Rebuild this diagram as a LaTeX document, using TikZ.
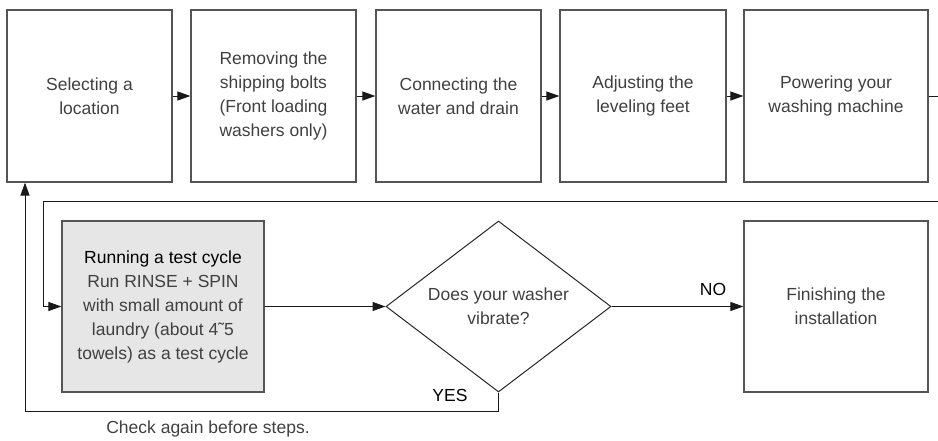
\documentclass[tikz,border=0pt]{standalone}
\usepackage{fontspec}
\setmainfont{Liberation Sans}
\usetikzlibrary{arrows.meta,shapes.geometric}
\definecolor{txt}{HTML}{404040}
\definecolor{edge}{HTML}{555555}
\definecolor{grayfill}{HTML}{E6E6E6}
\tikzset{
  stepbox/.style={draw=edge, line width=1.2pt, minimum height=172pt, align=center, text=txt, inner sep=0pt,
    font=\fontsize{17.5}{24}\selectfont},
  conn/.style={draw=black!90, line width=1pt},
  arr/.style={conn, -{Triangle[length=13pt,width=9pt]}},
  lbl/.style={font=\fontsize{17.5}{24}\selectfont, text=black, inner sep=0pt},
}
\begin{document}
\begin{tikzpicture}[x=1pt,y=-1pt]
\useasboundingbox (0,0) rectangle (938,440);
\node[stepbox, minimum width=165pt] (b1) at (89.5,96) {Selecting a\\location};
\node[stepbox, minimum width=165pt] (b2) at (273.5,96) {Removing the\\shipping bolts\\(Front loading\\washers only)};
\node[stepbox, minimum width=165pt] (b3) at (458.5,96) {Connecting the\\water and drain};
\node[stepbox, minimum width=166pt] (b4) at (643,96) {Adjusting the\\leveling feet};
\node[stepbox, minimum width=184pt] (b5) at (836,96) {Powering your\\washing machine};
\coordinate (rend) at (938,96);
\coordinate (rtop) at (938,201);
\coordinate (lk) at (43,201);
\coordinate (lb) at (25,411);

\node[stepbox, fill=grayfill, minimum width=202pt, minimum height=171pt] (test) at (163,306.5)
  {{\color{black}Running a test cycle}\\Run RINSE + SPIN\\with small amount of\\laundry (about 4˜5\\towels) as a test cycle};
\node[diamond, draw=black!85, line width=1pt, minimum width=225pt, minimum height=171pt, inner sep=0pt] (dia) at (498.5,306.5) {};
\node[align=center, text=txt, font=\fontsize{17.5}{24}\selectfont, inner sep=0pt] (diat) at (dia.center) {Does your washer\\vibrate?};
\node[stepbox, minimum width=184pt, minimum height=171pt] (fin) at (836,306.5) {Finishing the\\installation};

\draw[arr] (b1.east) -- (b2.west);
\draw[arr] (b2.east) -- (b3.west);
\draw[arr] (b3.east) -- (b4.west);
\draw[arr] (b4.east) -- (b5.west);
\draw[conn] (b5.east) -- (rend);
\draw[arr] (rtop) -- (lk) |- (test.west);
\draw[arr] (test.east) -- (dia.west);
\draw[arr] (dia.east) -- (fin.west);
\node[lbl] (no) at (713,289) {NO};
\draw[arr] (dia.south) |- (lb) -- (b1.south -| lb);
\node[lbl] (yes) at (450,395) {YES};
\node[text=txt, font=\fontsize{17.5}{24}\selectfont, inner sep=0pt] (chk) at (208,429) {Check again before steps.};
\end{tikzpicture}
\end{document}
